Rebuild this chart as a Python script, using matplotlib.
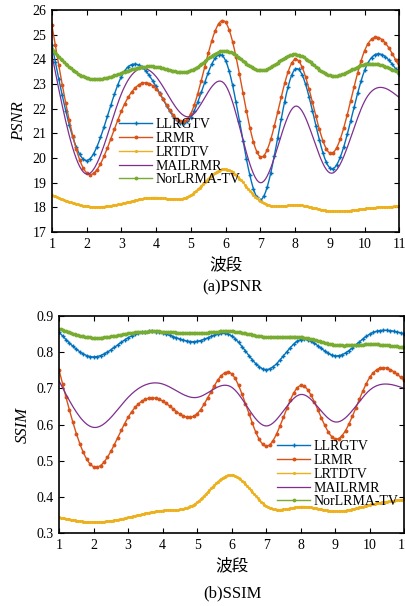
import numpy as np
import matplotlib
matplotlib.use('Agg')
from matplotlib import pyplot as plt

# band index
bands = np.arange(1, 12)
methods = ['LLRGTV', 'LRMR', 'LRTDTV', 'MAILRMR', 'NorLRMA-TV']

# PSNR values
psnr_llrgtv = [24.6, 19.9, 23.3, 22.9, 21.65, 23.95, 18.3, 23.6, 19.6, 23.55, 23.4]
psnr_lrmr = [25.4, 19.4, 21.9, 22.8, 21.8, 25.5, 20.05, 24.0, 20.2, 24.35, 23.7]
psnr_lrtdtv = [18.5, 18.05, 18.15, 18.4, 18.5, 19.55, 18.25, 18.1, 17.85, 17.95, 18.05]
psnr_mailrmr = [24.2, 19.35, 22.6, 23.3, 21.7, 22.95, 19.0, 22.1, 19.4, 22.3, 22.45]
psnr_norlrma = [24.4, 23.25, 23.45, 23.7, 23.55, 24.35, 23.55, 24.2, 23.35, 23.8, 23.45]

# SSIM values
ssim_llrgtv = [0.855, 0.787, 0.84, 0.853, 0.83, 0.845, 0.752, 0.835, 0.79, 0.85, 0.851]
ssim_lrmr = [0.75, 0.483, 0.62, 0.665, 0.63, 0.74, 0.54, 0.708, 0.56, 0.73, 0.722]
ssim_lrtdtv = [0.343, 0.33, 0.343, 0.362, 0.385, 0.46, 0.375, 0.373, 0.36, 0.378, 0.393]
ssim_mailrmr = [0.72, 0.592, 0.675, 0.712, 0.675, 0.703, 0.596, 0.683, 0.607, 0.695, 0.70]
ssim_norlrma = [0.865, 0.84, 0.852, 0.857, 0.852, 0.858, 0.842, 0.842, 0.82, 0.822, 0.813]

colors = ['#0072BD', '#D95319', '#EDB120', '#7E2F8E', '#77AC30']
markers = ['+', 'o', '.', None, '.']
msizes = [3, 1.8, 2.5, 0, 3.5]
mevery = [2, 2, 1, 1, 1]

plt.rcParams['font.family'] = ['Liberation Serif', 'Noto Sans CJK SC']
plt.rcParams['font.size'] = 10


def smooth(x, y, n=201):
  # natural cubic spline, drawn the way the original curves are
  x = np.asarray(x, float)
  y = np.asarray(y, float)
  k = len(x)
  h = np.diff(x)
  A = np.zeros((k, k))
  r = np.zeros(k)
  A[0, 0] = 1
  A[-1, -1] = 1
  for i in range(1, k - 1):
    A[i, i - 1] = h[i - 1]
    A[i, i] = 2 * (h[i - 1] + h[i])
    A[i, i + 1] = h[i]
    r[i] = 6 * ((y[i + 1] - y[i]) / h[i] - (y[i] - y[i - 1]) / h[i - 1])
  m = np.linalg.solve(A, r)
  xs = np.linspace(x[0], x[-1], n)
  idx = np.clip(np.searchsorted(x, xs) - 1, 0, k - 2)
  x0, x1 = x[idx], x[idx + 1]
  hh = x1 - x0
  t0 = x1 - xs
  t1 = xs - x0
  ys = (m[idx] * t0 ** 3 + m[idx + 1] * t1 ** 3) / (6 * hh) \
       + (y[idx] / hh - m[idx] * hh / 6) * t0 \
       + (y[idx + 1] / hh - m[idx + 1] * hh / 6) * t1
  return xs, ys


def draw_panel(ax, series, ylim, yticks, ylabel):
  for name, vals, c, mk, ms, me in zip(methods, series, colors, markers, msizes, mevery):
    xs, ys = smooth(bands, vals)
    if mk is None:
      ax.plot(xs, ys, color=c, linewidth=0.9, label=name)
    else:
      ax.plot(xs, ys, color=c, linewidth=1.0, marker=mk, markersize=ms,
              markevery=me, label=name)
  ax.set_xlim(1, 11)
  ax.set_ylim(*ylim)
  ax.set_xticks(bands)
  ax.set_yticks(yticks)
  ax.tick_params(direction='in', top=True, right=True, length=3.5, width=0.8, pad=4)
  for s in ax.spines.values():
    s.set_linewidth(1.2)
  ax.set_ylabel(ylabel, fontstyle='italic', fontsize=12)
  ax.set_xlabel('波段', fontsize=12, family=['Noto Sans CJK SC'])


fig = plt.figure(figsize=(4.05, 6.06), dpi=100)

ax1 = fig.add_axes([0.128, 0.617, 0.858, 0.3665])
draw_panel(ax1, [psnr_llrgtv, psnr_lrmr, psnr_lrtdtv, psnr_mailrmr, psnr_norlrma],
           (17, 26), np.arange(17, 27), 'PSNR')
ax1.legend(loc='upper left', bbox_to_anchor=(119 / 405, 1 - 118 / 606),
           bbox_transform=fig.transFigure, frameon=False, borderpad=0,
           borderaxespad=0, handlelength=2.4, handletextpad=0.2, labelspacing=0.06)
fig.text(232 / 405, 1 - 287 / 606, '(a)PSNR', ha='center', va='center', fontsize=12)

ax2 = fig.add_axes([0.146, 0.1205, 0.852, 0.358])
draw_panel(ax2, [ssim_llrgtv, ssim_lrmr, ssim_lrtdtv, ssim_mailrmr, ssim_norlrma],
           (0.3, 0.9), np.round(np.arange(0.3, 0.95, 0.1), 1), 'SSIM')
ax2.legend(loc='upper left', bbox_to_anchor=(277 / 405, 1 - 440 / 606),
           bbox_transform=fig.transFigure, frameon=False, borderpad=0,
           borderaxespad=0, handlelength=2.4, handletextpad=0.2, labelspacing=0.06)
fig.text(232 / 405, 1 - 593 / 606, '(b)SSIM', ha='center', va='center', fontsize=12)

plt.savefig('out.png', dpi=100)
